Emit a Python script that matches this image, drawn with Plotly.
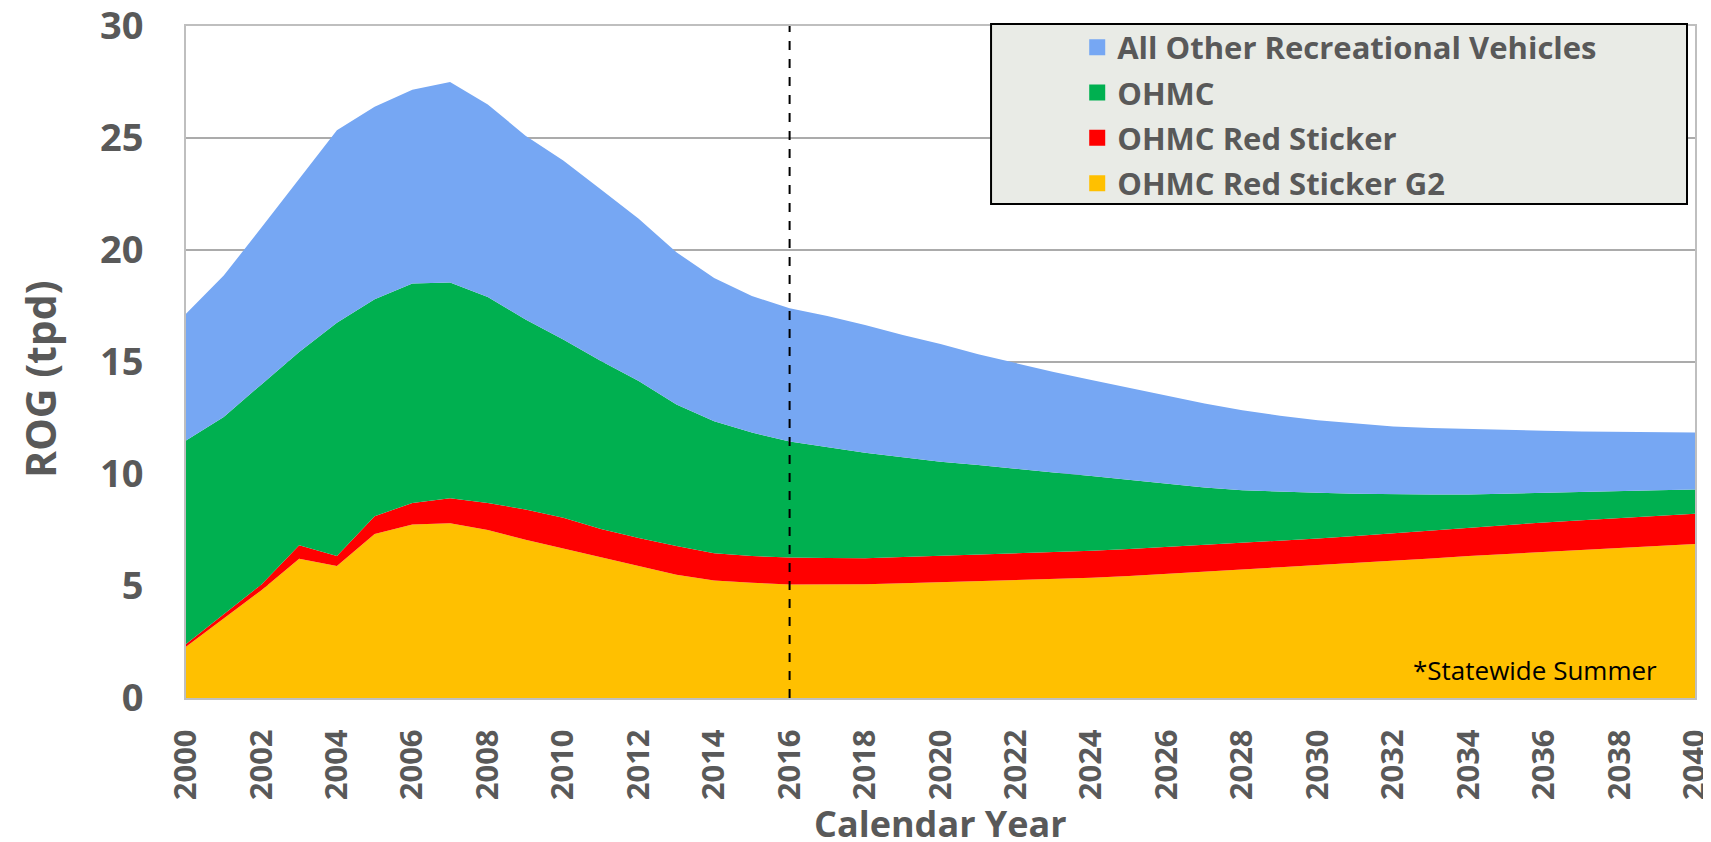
import plotly.graph_objects as go

years = list(range(2000, 2041))

# values (tons per day), one entry per calendar year
ohmc_red_sticker_g2 = [2.29, 3.55, 4.81, 6.22, 5.89, 7.32, 7.75, 7.80, 7.50, 7.06, 6.67, 6.25, 5.86, 5.50, 5.25,
                       5.14, 5.07, 5.07, 5.08, 5.12, 5.17, 5.21, 5.26, 5.31, 5.37, 5.45, 5.54, 5.64, 5.74, 5.84,
                       5.94, 6.03, 6.12, 6.23, 6.34, 6.43, 6.52, 6.62, 6.72, 6.80, 6.87]
ohmc_red_sticker = [0.12, 0.17, 0.26, 0.60, 0.45, 0.79, 0.96, 1.12, 1.21, 1.35, 1.38, 1.30, 1.28, 1.29, 1.21,
                    1.20, 1.20, 1.18, 1.16, 1.17, 1.17, 1.19, 1.19, 1.20, 1.20, 1.20, 1.20, 1.20, 1.20, 1.19,
                    1.18, 1.20, 1.23, 1.25, 1.28, 1.30, 1.32, 1.32, 1.32, 1.33, 1.35]
ohmc = [9.09, 8.83, 8.93, 8.63, 10.41, 9.69, 9.79, 9.63, 9.19, 8.49, 7.95, 7.50, 7.01, 6.31, 5.89,
        5.51, 5.18, 4.95, 4.71, 4.46, 4.21, 4.00, 3.77, 3.56, 3.34, 3.09, 2.81, 2.56, 2.33, 2.17,
        2.04, 1.89, 1.74, 1.61, 1.47, 1.39, 1.32, 1.25, 1.18, 1.14, 1.09]
all_other_rec = [5.65, 6.31, 7.00, 7.75, 8.60, 8.60, 8.65, 8.95, 8.60, 8.20, 8.00, 7.65, 7.25, 6.80, 6.40,
                 6.10, 5.95, 5.85, 5.70, 5.45, 5.25, 4.95, 4.73, 4.48, 4.29, 4.11, 3.95, 3.75, 3.58, 3.40,
                 3.24, 3.13, 3.03, 2.96, 2.91, 2.83, 2.77, 2.71, 2.66, 2.59, 2.54]

# stacking order, bottom to top
series_names = ["OHMC Red Sticker G2", "OHMC Red Sticker", "OHMC", "All Other Recreational Vehicles"]
series_colors = ["#FFC000", "#FF0000", "#00B050", "#76A7F3"]
series_values = [ohmc_red_sticker_g2, ohmc_red_sticker, ohmc, all_other_rec]

base_year = 2016

GREY = "#595959"
FONT = "Open Sans"

fig = go.Figure()

for name, color, vals in zip(series_names, series_colors, series_values):
    fig.add_trace(go.Scatter(
        x=years, y=vals, name=name, stackgroup="rog", mode="lines",
        line=dict(width=0, color=color), fillcolor=color, showlegend=False,
    ))

# square legend swatches, listed top of stack first
for i, (name, color) in enumerate(zip(series_names[::-1], series_colors[::-1])):
    fig.add_trace(go.Scatter(
        x=[None], y=[None], name=name, mode="markers", legendgroup=str(i),
        marker=dict(symbol="square", size=21, color=color),
    ))

fig.add_vline(x=base_year, line=dict(color="black", width=2, dash="dash"), layer="above")

# legend frame
fig.add_shape(type="rect", xref="paper", yref="paper", x0=0.5335, x1=0.9947, y0=0.7351, y1=1.003,
              fillcolor="#E9EBE6", line=dict(color="black", width=2), layer="above")

fig.add_annotation(text="*Statewide Summer", xref="paper", yref="paper", x=0.976, y=0.012,
                   xanchor="right", yanchor="bottom", showarrow=False,
                   font=dict(family=FONT, size=26, color="black"))
fig.add_annotation(text="ROG (tpd)", xref="paper", yref="paper", x=-0.0967, y=0.475, textangle=-90,
                   xanchor="center", yanchor="middle", showarrow=False,
                   font=dict(family=FONT, size=41, color=GREY, weight="bold"))
fig.add_annotation(text="Calendar Year", xref="paper", yref="paper", x=0.5, y=-0.187,
                   xanchor="center", yanchor="middle", showarrow=False,
                   font=dict(family=FONT, size=36, color=GREY, weight="bold"))

# the page body adds an 8px offset, so the figure is sized to end at the window edge
fig.update_layout(
    width=1703, height=834,
    margin=dict(l=178, r=16, t=18, b=144),
    paper_bgcolor="white", plot_bgcolor="white",
    font=dict(family=FONT, color=GREY),
    legend=dict(x=0.5906, y=1.008, xanchor="left", yanchor="top", traceorder="grouped",
                tracegroupgap=2, bgcolor="rgba(0,0,0,0)", borderwidth=0,
                font=dict(family=FONT, size=31, color=GREY, weight="bold")),
    xaxis=dict(range=[2000, 2040], dtick=2, tick0=2000, tickangle=-90, showgrid=False,
               showline=True, linecolor="#BFBFBF", linewidth=2, mirror=True, zeroline=False,
               ticks="", ticklabelstandoff=17, automargin=False, ticklabeloverflow="allow",
               tickfont=dict(family=FONT, size=31, color=GREY, weight="bold")),
    yaxis=dict(range=[0, 30], dtick=5, showgrid=True, gridcolor="#ABABAB", gridwidth=2,
               showline=True, linecolor="#BFBFBF", linewidth=2, mirror=True, zeroline=False,
               ticks="", ticklabelstandoff=33, automargin=False, ticklabeloverflow="allow",
               tickfont=dict(family=FONT, size=38, color=GREY, weight="bold")),
)

fig.write_html("out.html")
